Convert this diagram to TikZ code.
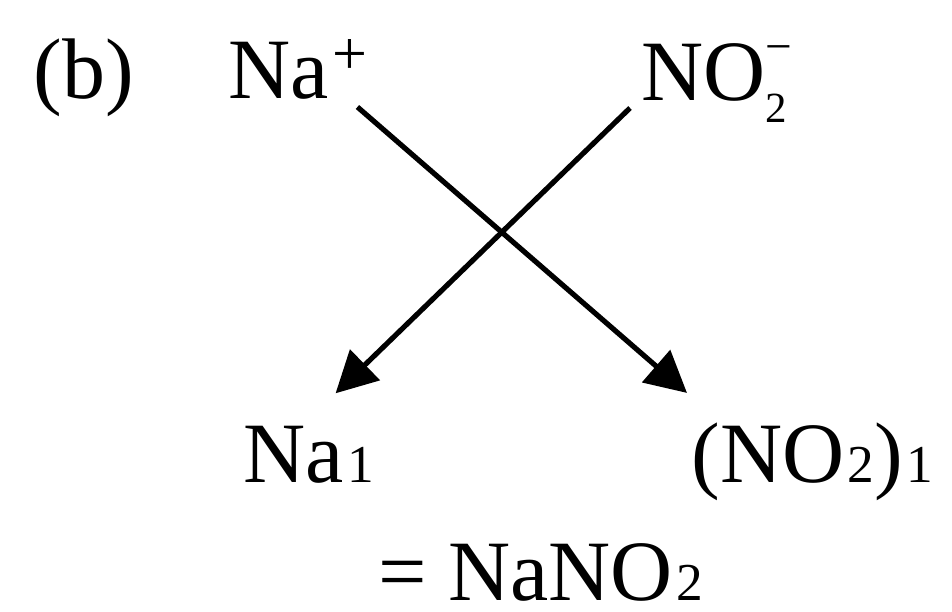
\documentclass[tikz,border=0pt]{standalone}
\usepackage{fontspec}
\setmainfont{Liberation Serif}
\usepackage{graphicx}
\usetikzlibrary{arrows.meta}
\newcommand{\ionsup}[1]{\kern0.04em\raisebox{0.27em}{\scalebox{0.72}{#1}}}
\newcommand{\lowsub}[1]{\kern0.04em\scalebox{0.62}{#1}}
\newcommand{\subsup}[2]{\rlap{\raisebox{-0.26em}{\scalebox{0.5}{#1}}}\raisebox{0.44em}{\scalebox{0.55}{#2}}}

\begin{document}
\begin{tikzpicture}[x=0.5pt, y=-0.5pt,
		chem/.style={inner sep=0pt, anchor=base west, font=\fontsize{43}{50}\selectfont},
		arr/.style={-{Triangle[length=20.5pt, width=21pt]}, line width=2.6pt}]
		\useasboundingbox (0, 0) rectangle (952, 611);
		\node [chem] (part) at (33, 98) {(b)};
		\node [chem] (cation) at (228, 98) {Na\ionsup{+}};
		\node [chem] (anion) at (641, 100) {NO\subsup{2}{−}};
		\node [chem] (na1) at (243, 482) {Na\lowsub{1}};
		\node [chem] (no1) at (691, 482) {(NO\lowsub{2})\lowsub{1}};
		\node [chem] (salt) at (378, 600) {= NaNO\lowsub{2}};
		\draw [arr] ([xshift=-5pt, yshift=-4.5pt]cation.base east) -- ([xshift=-2pt, yshift=14.5pt]no1.north west);
		\draw [arr] ([xshift=-5.5pt, yshift=-4pt]anion.base west) -- ([xshift=13.5pt, yshift=16pt]na1.north);
	\end{tikzpicture}
\end{document}
